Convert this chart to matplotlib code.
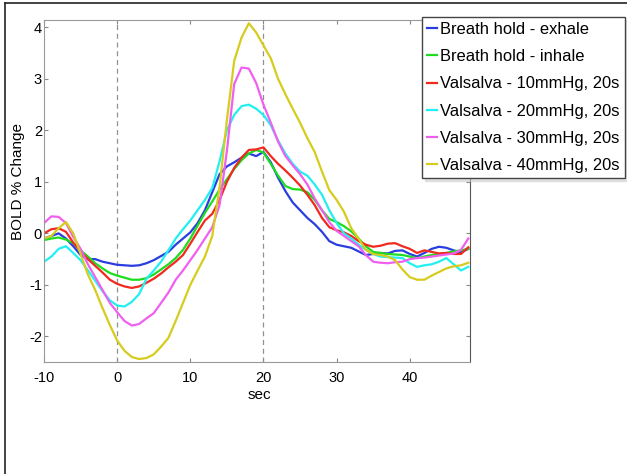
import numpy as np
import matplotlib
matplotlib.use("Agg")
import matplotlib.pyplot as plt
from matplotlib.lines import Line2D

plt.rcParams['font.family'] = ['Liberation Sans', 'DejaVu Sans']
plt.rcParams['axes.unicode_minus'] = False

# time axis (sec)
t = np.arange(-10, 49)

bh_exhale = [-0.1, -0.05, 0.0, -0.1, -0.25, -0.42, -0.5, -0.5, -0.55, -0.58,
             -0.61, -0.62, -0.63, -0.62, -0.58, -0.52, -0.44, -0.36, -0.22, -0.1,
             0.02, 0.2, 0.45, 0.8, 1.15, 1.3, 1.38, 1.47, 1.55, 1.5,
             1.58, 1.38, 1.08, 0.82, 0.6, 0.45, 0.3, 0.18, 0.03, -0.15,
             -0.22, -0.25, -0.28, -0.35, -0.42, -0.4, -0.38, -0.39, -0.34, -0.33,
             -0.4, -0.45, -0.38, -0.3, -0.26, -0.28, -0.33, -0.37, -0.3]
bh_inhale = [-0.13, -0.1, -0.08, -0.12, -0.19, -0.33, -0.45, -0.58, -0.68, -0.77,
             -0.82, -0.86, -0.9, -0.9, -0.87, -0.8, -0.7, -0.6, -0.48, -0.32,
             -0.1, 0.15, 0.4, 0.62, 0.85, 1.05, 1.25, 1.42, 1.55, 1.62,
             1.57, 1.35, 1.12, 0.92, 0.86, 0.85, 0.8, 0.65, 0.45, 0.28,
             0.22, 0.14, 0.04, -0.1, -0.25, -0.36, -0.38, -0.4, -0.41, -0.42,
             -0.45, -0.48, -0.45, -0.42, -0.4, -0.38, -0.35, -0.33, -0.3]
vs_10 = [0.0, 0.08, 0.1, 0.03, -0.18, -0.35, -0.5, -0.63, -0.76, -0.9,
         -0.98, -1.03, -1.06, -1.03, -0.96, -0.88, -0.78, -0.66, -0.55, -0.42,
         -0.2, 0.03, 0.25, 0.38, 0.65, 1.0, 1.27, 1.47, 1.62, 1.63,
         1.67, 1.5, 1.35, 1.22, 1.08, 0.93, 0.75, 0.55, 0.3, 0.12,
         0.06, 0.02, -0.05, -0.15, -0.22, -0.26, -0.24, -0.2, -0.19, -0.25,
         -0.3, -0.38, -0.33, -0.36, -0.39, -0.38, -0.4, -0.4, -0.27]
vs_20 = [-0.55, -0.45, -0.3, -0.25, -0.38, -0.52, -0.72, -0.92, -1.12, -1.3,
         -1.4, -1.42, -1.33, -1.18, -0.88, -0.72, -0.55, -0.33, -0.1, 0.08,
         0.25, 0.45, 0.65, 0.88, 1.4, 2.0, 2.3, 2.47, 2.5, 2.42,
         2.3, 2.1, 1.8, 1.55, 1.35, 1.2, 1.12, 0.95, 0.75, 0.45,
         0.2, 0.0, -0.1, -0.22, -0.32, -0.4, -0.45, -0.46, -0.47, -0.48,
         -0.58, -0.65, -0.62, -0.6, -0.55, -0.48, -0.6, -0.72, -0.65]
vs_30 = [0.2, 0.33, 0.32, 0.2, -0.07, -0.3, -0.6, -0.85, -1.1, -1.35,
         -1.53, -1.7, -1.79, -1.76, -1.65, -1.55, -1.35, -1.15, -0.9, -0.72,
         -0.52, -0.32, -0.1, 0.12, 0.55, 1.6, 2.9, 3.22, 3.2, 2.92,
         2.5, 2.15, 1.78, 1.5, 1.32, 1.15, 0.95, 0.68, 0.45, 0.22,
         0.05, -0.05, -0.15, -0.25, -0.42, -0.55, -0.57, -0.58, -0.56, -0.55,
         -0.5, -0.48, -0.47, -0.45, -0.43, -0.41, -0.39, -0.32, -0.1]
vs_40 = [-0.1, -0.05, 0.1, 0.22, 0.0, -0.4, -0.8, -1.1, -1.45, -1.78,
         -2.08, -2.28, -2.4, -2.44, -2.42, -2.35, -2.2, -2.03, -1.7, -1.35,
         -1.0, -0.72, -0.45, -0.05, 0.9, 2.2, 3.35, 3.8, 4.08, 3.9,
         3.65, 3.4, 3.0, 2.7, 2.42, 2.15, 1.85, 1.58, 1.2, 0.84,
         0.65, 0.42, 0.1, -0.1, -0.32, -0.4, -0.42, -0.45, -0.52, -0.7,
         -0.85, -0.9, -0.9, -0.82, -0.75, -0.68, -0.64, -0.62, -0.57]

labels = ['Breath hold - exhale', 'Breath hold - inhale',
          'Valsalva - 10mmHg, 20s', 'Valsalva - 20mmHg, 20s',
          'Valsalva - 30mmHg, 20s', 'Valsalva - 40mmHg, 20s']
colors = ['#2a3ee0', '#1edc1e', '#f02a1e', '#22f0f0', '#f060f0', '#d6cc1e']
series = [bh_exhale, bh_inhale, vs_10, vs_20, vs_30, vs_40]

fig = plt.figure(figsize=(6.27, 4.74), dpi=100)
ax = fig.add_axes([0.0702, 0.236, 0.679, 0.7215])

ax.axvline(0, color='#909090', ls=(0, (4, 3)), lw=0.9)
ax.axvline(20, color='#909090', ls=(0, (4, 3)), lw=0.9)

for y, c, lab in zip(series, colors, labels):
    ax.plot(t, y, color=c, lw=1.6, label=lab)

ax.set_xlim(-10, 48.2)
ax.set_ylim(-2.5, 4.14)
ax.set_xticks([-10, 0, 10, 20, 30, 40])
ax.set_yticks([-2, -1, 0, 1, 2, 3, 4])
ax.tick_params(direction='in', length=3, top=True, right=True, labelsize=10.5,
               color='#888888')
ax.tick_params(axis='x', pad=6.5)
ax.tick_params(axis='y', pad=1.5)
for s in ['left', 'bottom', 'top']:
    ax.spines[s].set_color('#999999')
ax.spines['right'].set_color('#555555')
ax.set_xlabel('sec', fontsize=11)
ax.set_ylabel('BOLD % Change', fontsize=11)
ax.xaxis.set_label_coords(0.507, -0.076)
ax.yaxis.set_label_coords(-0.045, 0.528)

leg = ax.legend(loc='upper left', bbox_to_anchor=(422 / 627, 1 - 17 / 474),
                bbox_transform=fig.transFigure, fontsize=11.9, handlelength=0.6,
                handletextpad=0.2, borderpad=0.3, borderaxespad=0,
                labelspacing=0.74, fancybox=False, framealpha=1,
                shadow={'color': '#c8c8c8'})
leg.get_frame().set_edgecolor('#444444')
leg.get_frame().set_linewidth(1.0)

# outer frame of the original screenshot
fig.add_artist(Line2D([5 / 627, 1], [1 - 3 / 474, 1 - 3 / 474],
                      transform=fig.transFigure, color='#222222', lw=1.2))
fig.add_artist(Line2D([5 / 627, 5 / 627], [0, 1 - 3 / 474],
                      transform=fig.transFigure, color='#222222', lw=1.2))

fig.savefig('out.png', dpi=100)
